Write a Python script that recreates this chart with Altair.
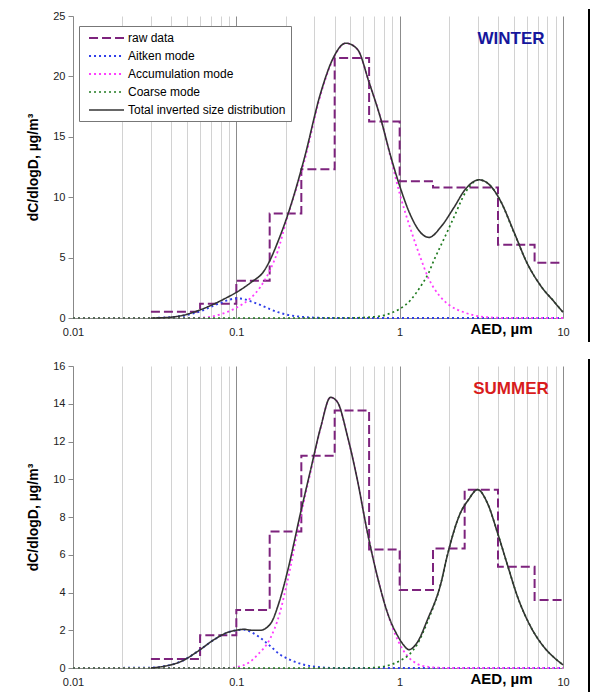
import altair as alt
import pandas as pd

SERIES = ["raw data", "Aitken mode", "Accumulation mode", "Coarse mode",
          "Total inverted size distribution"]
COLORS = ["#7d237d", "#2f3ee8", "#ff3cff", "#1f7a1f", "#333333"]
DASHES = [[9, 4], [2, 3], [2, 3], [2, 3], [1, 0]]
WIDTHS = [2, 1.6, 1.6, 1.6, 1]

# impactor stage edges (µm)
edges = [0.03, 0.06, 0.1, 0.16, 0.25, 0.4, 0.65, 1.0, 1.6, 2.5, 4.0, 6.7, 10]

# ---------------- WINTER ----------------
w_raw = [0.52, 1.19, 3.09, 8.65, 12.32, 21.53, 16.26, 11.33, 10.8, 10.8, 6.06, 4.58]

w_ait_d = [0.01, 0.03, 0.04, 0.05, 0.06, 0.07, 0.08, 0.09, 0.1, 0.11, 0.12, 0.14,
           0.16, 0.18, 0.2, 0.25, 0.3, 0.4, 10]
w_ait_v = [0, 0.01, 0.07, 0.25, 0.55, 0.92, 1.25, 1.5, 1.62, 1.58, 1.42, 1.08,
           0.74, 0.48, 0.3, 0.1, 0.03, 0, 0]

w_acc_d = [0.01, 0.05, 0.06, 0.07, 0.08, 0.09, 0.1, 0.12, 0.14, 0.16, 0.18, 0.2,
           0.26, 0.33, 0.39, 0.47, 0.55, 0.65, 0.77, 0.88, 1.0, 1.17, 1.34, 1.5,
           1.75, 2.0, 2.5, 3.1, 3.6, 4.5, 10]
w_acc_v = [0, 0, 0.02, 0.1, 0.3, 0.55, 0.85, 1.55, 2.55, 3.9, 5.6, 7.8,
           12.9, 18.6, 21.4, 22.75, 22.25, 19.5, 16.4, 13.3, 10.3, 7.3, 5.0, 3.3,
           1.85, 1.1, 0.45, 0.12, 0.05, 0.01, 0]

w_coa_d = [0.01, 0.5, 0.6, 0.7, 0.8, 0.9, 1.0, 1.17, 1.34, 1.5, 1.63, 1.8, 1.95,
           2.15, 2.53, 3.06, 3.6, 4.14, 5.0, 6.0, 7.3, 8.9, 10]
w_coa_v = [0, 0, 0.04, 0.1, 0.22, 0.45, 0.75, 1.5, 2.6, 3.7, 4.85, 6.1, 7.1,
           8.35, 10.4, 11.44, 10.94, 9.7, 7.1, 4.6, 2.67, 1.3, 0.47]

w_tot_d = [0.03, 0.035, 0.04, 0.046, 0.058, 0.073, 0.088, 0.1, 0.123, 0.148, 0.162,
           0.179, 0.2055, 0.26, 0.329, 0.388, 0.468, 0.551, 0.65, 0.767, 0.88, 1.0,
           1.17, 1.34, 1.51, 1.79, 2.15, 2.53, 3.06, 3.6, 4.14, 5.02, 6.0, 7.3,
           8.88, 10]
w_tot_v = [0, 0.02, 0.07, 0.19, 0.6, 1.16, 1.71, 2.12, 2.95, 3.91, 4.88,
           6.26, 8.46, 13.15, 18.67, 21.4, 22.75, 22.25, 19.5, 16.46, 13.42, 10.94,
           8.46, 7.09, 6.67, 7.55, 9.15, 10.67, 11.44, 10.94, 9.7, 7.09, 4.6, 2.67,
           1.3, 0.47]

# ---------------- SUMMER ----------------
s_raw = [0.48, 1.73, 3.07, 7.23, 11.25, 13.64, 6.28, 4.13, 6.33, 9.44, 5.36, 3.6]

s_ait_d = [0.01, 0.03, 0.036, 0.046, 0.058, 0.073, 0.088, 0.1, 0.111, 0.12, 0.135,
           0.162, 0.186, 0.2055, 0.26, 0.33, 0.4, 10]
s_ait_v = [0, 0.02, 0.09, 0.35, 0.88, 1.5, 1.88, 2.0, 2.03, 1.95, 1.7,
           1.15, 0.7, 0.5, 0.17, 0.04, 0, 0]

s_acc_d = [0.01, 0.09, 0.1, 0.12, 0.135, 0.162, 0.183, 0.2055, 0.247, 0.285, 0.329,
           0.377, 0.415, 0.48, 0.551, 0.63, 0.73, 0.843, 0.977, 1.05, 1.14, 1.28,
           1.48, 1.8, 2.0, 10]
s_acc_v = [0, 0, 0.05, 0.3, 0.7, 1.6, 2.8, 4.6, 8.0, 10.4, 12.75,
           14.34, 14.1, 12.25, 9.96, 7.32, 4.85, 2.9, 1.45, 0.95, 0.55, 0.22,
           0.07, 0.01, 0, 0]

s_coa_d = [0.01, 0.6, 0.7, 0.8, 0.9, 1.0, 1.14, 1.28, 1.48, 1.79, 1.95, 2.35, 2.63,
           3.0, 3.46, 3.98, 4.6, 5.26, 6.33, 7.6, 8.88, 10]
s_coa_v = [0, 0, 0.02, 0.08, 0.2, 0.38, 0.7, 1.25, 2.45, 4.5, 5.9, 8.2, 8.9,
           9.45, 8.7, 7.14, 5.38, 3.79, 2.2, 1.14, 0.53, 0.17]

s_tot_d = [0.03, 0.036, 0.046, 0.058, 0.073, 0.088, 0.1, 0.111, 0.125, 0.14, 0.162,
           0.183, 0.2055, 0.247, 0.285, 0.329, 0.377, 0.415, 0.48, 0.551, 0.63,
           0.73, 0.843, 0.977, 1.05, 1.14, 1.28, 1.48, 1.79, 1.95, 2.35, 2.63, 3.0,
           3.46, 3.98, 4.6, 5.26, 6.33, 7.6, 8.88, 10]
s_tot_v = [0, 0.09, 0.35, 0.88, 1.5, 1.88, 2.0, 2.05, 2.0, 2.0, 2.35,
           3.5, 5.1, 8.2, 10.5, 12.78, 14.34, 14.1, 12.25, 9.96, 7.32,
           4.85, 2.91, 1.67, 1.25, 0.97, 1.35, 2.56, 4.5, 5.9, 8.2, 8.9, 9.45,
           8.7, 7.14, 5.38, 3.79, 2.2, 1.14, 0.53, 0.17]

grid_vals = [0.01, 0.02, 0.03, 0.04, 0.05, 0.06, 0.07, 0.08, 0.09,
             0.1, 0.2, 0.3, 0.4, 0.5, 0.6, 0.7, 0.8, 0.9,
             1, 2, 3, 4, 5, 6, 7, 8, 9, 10]

W, H = 490, 302
FONT = "Liberation Sans"


def panel(raw, ait, acc, coa, tot, ymax, ystep_vals, season, season_color):
    raw_df = pd.DataFrame({"D": edges, "value": raw + [raw[-1]], "series": SERIES[0]})
    modes_df = pd.concat([
        pd.DataFrame({"D": ait[0], "value": ait[1], "series": SERIES[1]}),
        pd.DataFrame({"D": acc[0], "value": acc[1], "series": SERIES[2]}),
        pd.DataFrame({"D": coa[0], "value": coa[1], "series": SERIES[3]}),
    ])
    tot_df = pd.DataFrame({"D": tot[0], "value": tot[1], "series": SERIES[4]})

    x = alt.X("D:Q",
              scale=alt.Scale(type="log", domain=[0.01, 10], nice=False),
              axis=alt.Axis(values=grid_vals, ticks=False, grid=True,
                            gridColor={"condition": {"test": "datum.value == 0.1 || datum.value == 1 || datum.value == 10",
                                                     "value": "#8c8c8c"},
                                       "value": "#d2d2d2"},
                            labelExpr="datum.value == 0.01 ? '0.01' : datum.value == 0.1 ? '0.1' : datum.value == 1 ? '1' : datum.value == 10 ? '10' : ''",
                            labelOverlap=False, labelFlush=False, labelFontSize=11,
                            labelColor="#222", labelPadding=8, domainColor="#888",
                            title="AED, µm", titleFontSize=15, titleFontWeight="bold",
                            titleX=428, titleY=15, titleAlign="center",
                            titleBaseline="alphabetic", titleColor="#000"))
    y = alt.Y("value:Q",
              scale=alt.Scale(domain=[0, ymax], nice=False),
              axis=alt.Axis(values=ystep_vals, grid=False, tickSize=5, tickColor="#888",
                            domainColor="#888", labelFontSize=11, labelColor="#222",
                            labelPadding=3, title="dC/dlogD, µg/m³", titleFontSize=14,
                            titleFontWeight="bold", titlePadding=12, titleColor="#000"))
    legend = alt.Legend(orient="none", legendX=6, legendY=10, title=None,
                        symbolType="M-0.33,0H5.5", symbolSize=144, labelFontSize=12,
                        labelColor="#000", fillColor="white", strokeColor="#777",
                        padding=5, rowPadding=5, labelOffset=30)
    color = alt.Color("series:N", scale=alt.Scale(domain=SERIES, range=COLORS), legend=legend)
    dash = alt.StrokeDash("series:N", scale=alt.Scale(domain=SERIES, range=DASHES), legend=legend)
    width = alt.StrokeWidth("series:N", scale=alt.Scale(domain=SERIES, range=WIDTHS), legend=legend)

    raw_layer = alt.Chart(raw_df).mark_line(interpolate="step-after").encode(
        x=x, y=y, color=color, strokeDash=dash, strokeWidth=width)
    modes_layer = alt.Chart(modes_df).mark_line(interpolate="monotone").encode(
        x=x, y=y, color=color, strokeDash=dash, strokeWidth=width, detail="series:N")
    tot_layer = alt.Chart(tot_df).mark_line(interpolate="monotone").encode(
        x=x, y=y, color=color, strokeDash=dash, strokeWidth=width)

    label = alt.Chart(pd.DataFrame({"t": [season]})).mark_text(
        fontSize=17, fontWeight="bold", color=season_color, align="center",
        baseline="middle", font=FONT).encode(
        text="t:N", x=alt.value(438), y=alt.value(23))
    frame = alt.Chart(pd.DataFrame({"t": [0]})).mark_rule(color="#000", strokeWidth=2).encode(
        x=alt.value(516), y=alt.value(-7), y2=alt.value(326))

    return alt.layer(raw_layer, modes_layer, tot_layer, label, frame).properties(
        width=W, height=H)


top = panel(w_raw, (w_ait_d, w_ait_v), (w_acc_d, w_acc_v), (w_coa_d, w_coa_v),
            (w_tot_d, w_tot_v), 25, [0, 5, 10, 15, 20, 25], "WINTER", "#16169c")
bottom = panel(s_raw, (s_ait_d, s_ait_v), (s_acc_d, s_acc_v), (s_coa_d, s_coa_v),
               (s_tot_d, s_tot_v), 16, [0, 2, 4, 6, 8, 10, 12, 14, 16], "SUMMER", "#d81c1c")

chart = alt.vconcat(top, bottom, spacing=15).configure(
    font=FONT, padding={"left": 18, "top": 0, "right": 0, "bottom": 0}
).configure_view(stroke=None)

chart.save("out.html", embed_options={"renderer": "svg", "actions": False})
